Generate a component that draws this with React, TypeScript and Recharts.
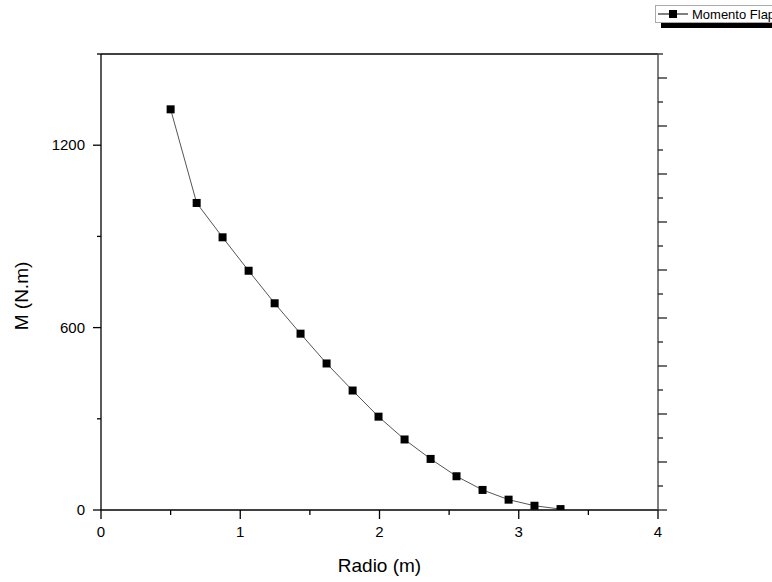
import React from 'react';
import { LineChart, Line, XAxis, YAxis, ReferenceLine } from 'recharts';

// radial stations along the blade (m)
const radio = [0.5, 0.687, 0.873, 1.06, 1.247, 1.433, 1.62, 1.807, 1.993, 2.18, 2.367, 2.553, 2.74, 2.927, 3.113, 3.3];
// flap bending moment (N.m)
const momento = [1318, 1010, 897, 787, 680, 580, 482, 393, 307, 232, 168, 111, 66, 34, 14, 3];

const xTicks = [0, 0.5, 1, 1.5, 2, 2.5, 3, 3.5, 4];
const yTicks = [0, 300, 600, 900, 1200, 1500];
const rightTicks = [0, 1, 2, 3, 4, 5, 6, 7, 8, 9, 10, 11, 12, 13, 14, 15, 16, 17, 18, 19];

const data = radio.map((r, i) => ({ r, m: momento[i] }));

const FONT = '"Liberation Sans", Arial, sans-serif';

const BottomTick = (props: any) => {
  const { x, y, payload } = props;
  const major = Number.isInteger(payload.value);
  return (
    <g>
      <line x1={x} y1={y} x2={x} y2={y + (major ? 9 : 5)} stroke="#000" strokeWidth={1.3} />
      {major && (
        <text x={x} y={y + 27} textAnchor="middle" fontSize={15} fontFamily={FONT} fill="#000">
          {payload.value}
        </text>
      )}
    </g>
  );
};

const LeftTick = (props: any) => {
  const { x, y, payload } = props;
  const major = payload.value % 600 === 0;
  return (
    <g>
      <line x1={x - (major ? 8 : 4)} y1={y} x2={x} y2={y} stroke="#000" strokeWidth={1.3} />
      {major && (
        <text x={x - 16} y={y + 5} textAnchor="end" fontSize={15} fontFamily={FONT} fill="#000">
          {payload.value}
        </text>
      )}
    </g>
  );
};

const RightTick = (props: any) => {
  const { x, y, payload } = props;
  const major = payload.value % 2 === 0;
  return <line x1={x} y1={y} x2={x + (major ? 9 : 5)} y2={y} stroke="#222" strokeWidth={1.3} />;
};

const SquareDot = (props: any) => {
  const { cx, cy } = props;
  if (cx == null || cy == null) return null;
  return <rect x={cx - 4} y={cy - 4} width={8} height={8} fill="#000" />;
};

export default function App() {
  return (
    <div style={{ position: 'absolute', left: 0, top: 0, width: 772, height: 582, overflow: 'hidden', background: '#fff' }}>
      <LineChart width={772} height={582} data={data} margin={{ top: 54, right: 0, bottom: 0, left: 0 }}>
        <XAxis
          dataKey="r"
          type="number"
          domain={[0, 4]}
          ticks={xTicks}
          height={72}
          tickSize={0}
          tickMargin={0}
          tickLine={false}
          tick={<BottomTick />}
          axisLine={{ stroke: '#000', strokeWidth: 1.3 }}
          label={(p: any) => {
            const vb = p.viewBox;
            return (
              <text x={vb.x + vb.width / 2} y={vb.y + 62} textAnchor="middle" fontSize={19} fontFamily={FONT} fill="#000">
                Radio (m)
              </text>
            );
          }}
        />
        <YAxis
          yAxisId="left"
          type="number"
          domain={[0, 1500]}
          ticks={yTicks}
          width={101}
          tickSize={0}
          tickMargin={0}
          tickLine={false}
          tick={<LeftTick />}
          axisLine={{ stroke: '#000', strokeWidth: 1.3 }}
          allowDataOverflow
          label={(p: any) => {
            const vb = p.viewBox;
            const cy = vb.y + vb.height / 2 + 14;
            return (
              <text x={28} y={cy} transform={`rotate(-90 28 ${cy})`} textAnchor="middle" fontSize={19} fontFamily={FONT} fill="#000">
                M (N.m)
              </text>
            );
          }}
        />
        <YAxis
          yAxisId="right"
          orientation="right"
          type="number"
          domain={[0, 19]}
          ticks={rightTicks}
          width={114}
          tickSize={0}
          tickMargin={0}
          tickLine={false}
          tick={<RightTick />}
          axisLine={{ stroke: '#555', strokeWidth: 1.5 }}
          allowDataOverflow
        />
        <ReferenceLine yAxisId="left" y={1500} stroke="#000" strokeWidth={1.3} />
        <Line
          yAxisId="left"
          type="linear"
          dataKey="m"
          stroke="#555"
          strokeWidth={1}
          dot={<SquareDot />}
          isAnimationActive={false}
        />
      </LineChart>
      <div
        style={{
          position: 'absolute',
          left: 655,
          top: 5,
          width: 130,
          height: 16,
          border: '1px solid #aaa',
          background: '#fff',
          boxShadow: '6px 5px 0 0 #000',
          display: 'flex',
          alignItems: 'center',
          fontFamily: FONT,
          fontSize: 13,
          color: '#000',
          whiteSpace: 'nowrap',
        }}
      >
        <svg width={34} height={16} style={{ flex: 'none' }}>
          <line x1={2} y1={8} x2={32} y2={8} stroke="#000" strokeWidth={1} />
          <rect x={13} y={4} width={8} height={8} fill="#000" />
        </svg>
        <span style={{ marginLeft: 2 }}>Momento Flap</span>
      </div>
    </div>
  );
}
